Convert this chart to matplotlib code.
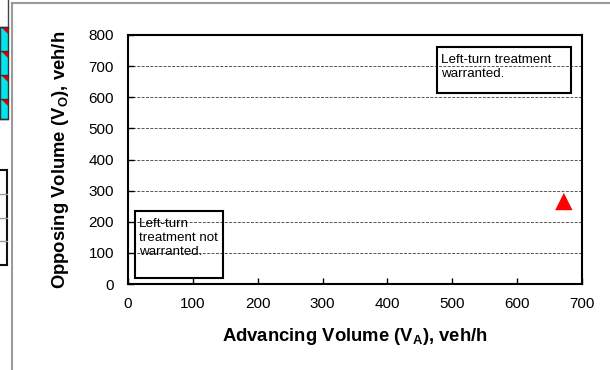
import matplotlib
matplotlib.use("Agg")
import matplotlib.pyplot as plt
from matplotlib.patches import Rectangle, Polygon
from matplotlib.lines import Line2D

plt.rcParams['font.family'] = ['Liberation Sans', 'DejaVu Sans']
plt.rcParams['mathtext.fontset'] = 'custom'
plt.rcParams['mathtext.rm'] = 'Liberation Sans'
plt.rcParams['mathtext.it'] = 'Liberation Sans:italic'
plt.rcParams['mathtext.bf'] = 'Liberation Sans:bold'

# ---- data ----
advancing = [672]
opposing = [265]
x_ticks = [0, 100, 200, 300, 400, 500, 600, 700]
y_ticks = [0, 100, 200, 300, 400, 500, 600, 700, 800]
x_label = r"Advancing Volume (V$_\mathbf{A}$), veh/h"
y_label = r"Opposing Volume (V$_\mathbf{O}$), veh/h"
text_warranted = "Left-turn treatment\nwarranted."
text_not_warranted = "Left-turn\ntreatment not\nwarranted."

W, H = 610, 370
fig = plt.figure(figsize=(W / 100, H / 100), dpi=100)

def fx(px):
    return px / W

def fy(py):
    return 1 - py / H

# ---- spreadsheet artifacts at left edge ----
fig.add_artist(Line2D([fx(12), fx(12)], [fy(3), fy(370)], color='#9a9a9a', lw=1.5))
fig.add_artist(Line2D([fx(12), fx(610)], [fy(3), fy(3)], color='#9a9a9a', lw=1.5))
fig.add_artist(Line2D([fx(8), fx(8)], [fy(0), fy(27)], color='#444444', lw=1))
cy_rows = [27, 51, 75, 99, 119]
fig.add_artist(Rectangle((fx(0), fy(119)), fx(8), fy(27) - fy(119),
                         facecolor='#00e5ee', edgecolor='#333333', lw=1))
for r in cy_rows:
    fig.add_artist(Line2D([fx(0), fx(8)], [fy(r), fy(r)], color='#333333', lw=1))
for r in cy_rows[:-1]:
    fig.add_artist(Polygon([(fx(2), fy(r + 1)), (fx(8), fy(r + 1)), (fx(8), fy(r + 7))],
                           closed=True, facecolor='#e00000', edgecolor='none'))
low_rows = [170, 194, 218, 241, 265]
fig.add_artist(Line2D([fx(7), fx(7)], [fy(170), fy(265)], color='#111111', lw=1.5))
for i, r in enumerate(low_rows):
    lw = 1.5 if i in (0, len(low_rows) - 1) else 1.0
    col = '#111111' if i in (0, len(low_rows) - 1) else '#9a9a9a'
    fig.add_artist(Line2D([fx(0), fx(7)], [fy(r), fy(r)], color=col, lw=lw))

# ---- main axes ----
ax = fig.add_axes([fx(128), fy(284), fx(582) - fx(128), fy(35) - fy(284)])
ax.set_xlim(0, 700)
ax.set_ylim(0, 800)
ax.set_xticks(x_ticks)
ax.set_yticks(y_ticks)
ax.tick_params(axis='both', direction='in', length=4, width=1, labelsize=11)
ax.tick_params(axis='x', pad=9)
ax.tick_params(axis='y', pad=10)
for s in ax.spines.values():
    s.set_linewidth(1.5)
    s.set_color('black')

ax.yaxis.grid(True, linestyle=(0, (3, 1.5)), linewidth=0.7, color='#555555')
ax.set_axisbelow(True)

ax.scatter(advancing, opposing, marker='^', s=12.5 ** 2, color='#ff0000',
           edgecolors='none', zorder=5, clip_on=False)

# annotation boxes
ax.add_patch(Rectangle((476, 614), 207, 147, fill=False, edgecolor='black', lw=1.5, zorder=4))
ax.text(482, 738, text_warranted, fontsize=9.6, va='top', ha='left', linespacing=1.22, zorder=4)
ax.add_patch(Rectangle((11, 19), 135, 216, fill=False, edgecolor='black', lw=1.5, zorder=4))
ax.text(17, 213, text_not_warranted, fontsize=9.6, va='top', ha='left', linespacing=1.25, zorder=4)

ax.set_xlabel(x_label, fontsize=13.3, fontweight='bold', labelpad=11)
ax.set_ylabel(y_label, fontsize=13.3, fontweight='bold', labelpad=13)

fig.savefig("out.png", dpi=100)
